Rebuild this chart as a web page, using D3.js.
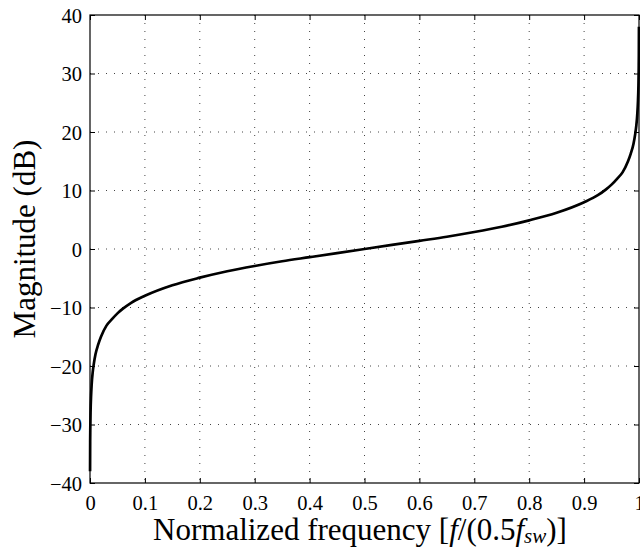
<!DOCTYPE html>
<html>
<head>
<meta charset="utf-8">
<script src="https://cdn.jsdelivr.net/npm/d3@7"></script>
<style>
  body { margin: 0; background: #fff; }
  text { font-family: "Liberation Serif", "DejaVu Serif", serif; }
</style>
</head>
<body>
<div id="chart"></div>
<script>
// Values
const freq = [0.0001, 0.0003, 0.0005, 0.001, 0.002, 0.003, 0.005, 0.007, 0.01, 0.015,
  0.02, 0.03, 0.04, 0.05, 0.06, 0.075, 0.1,
  0.15, 0.2, 0.25, 0.3, 0.35, 0.4, 0.45, 0.5, 0.55, 0.6, 0.65, 0.7, 0.75,
  0.8, 0.85, 0.9, 0.925, 0.94, 0.95, 0.96, 0.97, 0.98, 0.985, 0.99, 0.993,
  0.995, 0.997, 0.998, 0.999, 0.9995, 0.9997, 0.9999];
const magDb = [-38, -33, -31, -28, -25, -23.2, -21, -19.6, -18, -16.3,
  -15, -13.1, -12, -11, -10.2, -9.2, -8,
  -6.2, -4.9, -3.8, -2.9, -2.1, -1.4, -0.7, 0, 0.7, 1.4, 2.1, 2.9, 3.8,
  4.9, 6.2, 8, 9.2, 10.2, 11, 12, 13.1, 15, 16.3, 18, 19.6,
  21, 23.2, 25, 28, 31, 33, 38];
const xTicks = [0, 0.1, 0.2, 0.3, 0.4, 0.5, 0.6, 0.7, 0.8, 0.9, 1];
const yTicks = [-40, -30, -20, -10, 0, 10, 20, 30, 40];

const width = 640;
const height = 549;
const margin = { top: 15, right: 1, bottom: 66, left: 90 };
const innerW = width - margin.left - margin.right;
const innerH = height - margin.top - margin.bottom;

const svg = d3.select("#chart")
    .append("svg")
    .attr("width", width)
    .attr("height", height);

const g = svg.append("g")
    .attr("transform", `translate(${margin.left},${margin.top})`);

const x = d3.scaleLinear().domain([0, 1]).range([0, innerW]);
const y = d3.scaleLinear().domain([-40, 40]).range([innerH, 0]);

// Dotted grid
g.selectAll(".vgrid")
    .data(xTicks.slice(1, -1))
    .join("line")
    .attr("x1", d => x(d)).attr("x2", d => x(d))
    .attr("y1", 0).attr("y2", innerH)
    .attr("stroke", "#444")
    .attr("stroke-dasharray", "1,7");

g.selectAll(".hgrid")
    .data(yTicks.slice(1, -1))
    .join("line")
    .attr("x1", 0).attr("x2", innerW)
    .attr("y1", d => y(d)).attr("y2", d => y(d))
    .attr("stroke", "#444")
    .attr("stroke-dasharray", "1,7");

const fmt = d => d < 0 ? "\u2212" + Math.abs(d) : String(d);

// Axes with inward ticks
const xAxis = g.append("g")
    .attr("transform", `translate(0,${innerH})`)
    .call(d3.axisBottom(x).tickValues(xTicks).tickSize(-5).tickPadding(12).tickFormat(fmt));
const yAxis = g.append("g")
    .call(d3.axisLeft(y).tickValues(yTicks).tickSize(-5).tickPadding(8).tickFormat(fmt));
g.append("g")
    .call(d3.axisTop(x).tickValues(xTicks).tickSize(-5).tickFormat(""));
g.append("g")
    .attr("transform", `translate(${innerW},0)`)
    .call(d3.axisRight(y).tickValues(yTicks).tickSize(-5).tickFormat(""));

g.selectAll(".domain").remove();
g.selectAll(".tick line").attr("stroke", "#000");
[xAxis, yAxis].forEach(a => a.selectAll("text")
    .style("font-size", "20.5px")
    .style("font-family", "'Liberation Serif', serif")
    .attr("fill", "#000"));
yAxis.selectAll("text").attr("dy", "0.36em");

// Box
g.append("rect")
    .attr("width", innerW)
    .attr("height", innerH)
    .attr("fill", "none")
    .attr("stroke", "#000")
    .attr("stroke-width", 1.2);

// Curve
const line = d3.line()
    .x((d, i) => x(freq[i]))
    .y(d => y(d))
    .curve(d3.curveMonotoneX);

g.append("path")
    .datum(magDb)
    .attr("d", line)
    .attr("fill", "none")
    .attr("stroke", "#000")
    .attr("stroke-width", 2.7);

// Axis titles
const xt = svg.append("text")
    .attr("x", 360)
    .attr("y", 540)
    .attr("text-anchor", "middle")
    .style("font-size", "31px");
xt.append("tspan").text("Normalized frequency [");
xt.append("tspan").style("font-style", "italic").text("f");
xt.append("tspan").text("/(0.5");
xt.append("tspan").style("font-style", "italic").text("f");
xt.append("tspan").style("font-style", "italic").style("font-size", "21px").attr("dy", 3).text("sw");
xt.append("tspan").attr("dy", -3).text(")]");

svg.append("text")
    .attr("transform", "translate(35,239) rotate(-90)")
    .attr("text-anchor", "middle")
    .style("font-size", "31px")
    .text("Magnitude (dB)");
</script>
</body>
</html>
